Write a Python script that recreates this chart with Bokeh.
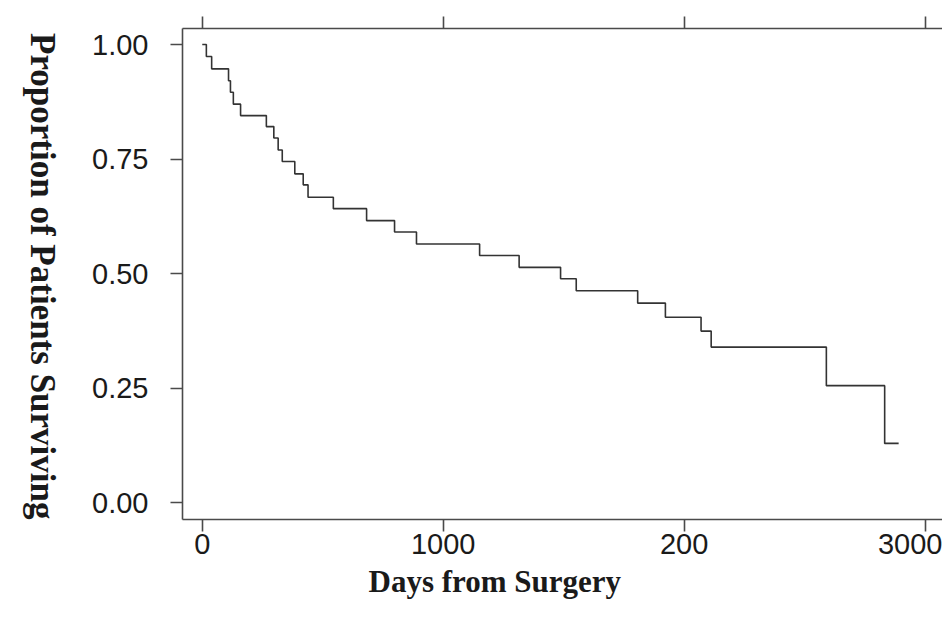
import math
from bokeh.plotting import figure
from bokeh.models import (LinearAxis, FixedTicker, PrintfTickFormatter, Range1d, Title)
from bokeh.embed import file_html
from bokeh.resources import INLINE

# Kaplan-Meier curve
days = [0, 17, 39, 109, 117, 129, 159, 266, 297, 315, 332, 384, 419, 439, 544,
        682, 798, 889, 1151, 1315, 1487, 1552, 1807, 1922, 2070, 2112, 2590,
        2832, 2890]
surv = [1.000, 0.974, 0.947, 0.921, 0.896, 0.870, 0.845, 0.821, 0.796, 0.770,
        0.745, 0.718, 0.694, 0.667, 0.642, 0.616, 0.591, 0.565, 0.540, 0.514,
        0.489, 0.463, 0.436, 0.405, 0.375, 0.340, 0.256, 0.130, 0.130]

x_ticks = [0, 1000, 2000, 3000]
x_tick_labels = {2000: "200"}
y_ticks = [0.0, 0.25, 0.5, 0.75, 1.0]
x_title = "Days from Surgery"
y_title = "Proportion of Patients Surviving"

AXIS = "#4a4a4a"
TXT = "#1a1a1a"

X0, X1 = -82, 3072
Y0, Y1 = -0.036, 1.035

p = figure(width=942, height=621, output_backend="svg", toolbar_location=None,
           x_range=Range1d(X0, X1), y_range=Range1d(Y0, Y1),
           x_axis_location=None, y_axis_location=None,
           min_border_left=182, min_border_right=0, min_border_top=28,
           min_border_bottom=102)
p.outline_line_color = None
p.xgrid.visible = False
p.ygrid.visible = False
p.background_fill_color = "white"
p.border_fill_color = "white"

p.step(days, surv, mode="after", line_color="#333333", line_width=1.6)

def style(ax):
    ax.axis_line_color = AXIS
    ax.axis_line_width = 1.6
    ax.major_tick_line_color = AXIS
    ax.major_tick_line_width = 1.6
    ax.major_tick_out = 12
    ax.major_tick_in = 0
    ax.minor_tick_line_color = None
    ax.major_label_text_font = "Liberation Sans"
    ax.major_label_text_font_size = "29px"
    ax.major_label_text_color = TXT

bottom = LinearAxis(ticker=FixedTicker(ticks=x_ticks))
style(bottom)
bottom.major_label_overrides = x_tick_labels
bottom.major_label_standoff = 2
p.add_layout(bottom, "below")

# x title sits left of the frame centre, as in the reference
xlab = Title(text=x_title, align="left", offset=186, vertical_align="bottom",
             standoff=10, text_font="Liberation Serif", text_font_style="bold",
             text_font_size="31px", text_color=TXT)
p.add_layout(xlab, "below")

# top axis: ticks only, no labels drawn
top = LinearAxis(ticker=FixedTicker(ticks=x_ticks))
style(top)
top.major_label_text_font_size = "1px"
top.major_label_text_color = None
top.major_label_standoff = 0
p.add_layout(top, "above")

left = LinearAxis(ticker=FixedTicker(ticks=y_ticks),
                  formatter=PrintfTickFormatter(format="%.2f"))
style(left)
left.major_label_standoff = 22
left.axis_label = y_title
left.axis_label_text_font = "Liberation Serif"
left.axis_label_text_font_style = "bold"
left.axis_label_text_font_size = "35px"
left.axis_label_text_color = TXT
left.axis_label_standoff = 47
props = LinearAxis.properties()
if "axis_label_orientation" in props:
    left.axis_label_orientation = -math.pi / 2
if "axis_label_align" in props:
    for v in ("start", "left", "bottom"):
        try:
            left.axis_label_align = v
            break
        except Exception:
            pass
p.add_layout(left, "left")

open("out.html", "w").write(file_html(p, INLINE))
